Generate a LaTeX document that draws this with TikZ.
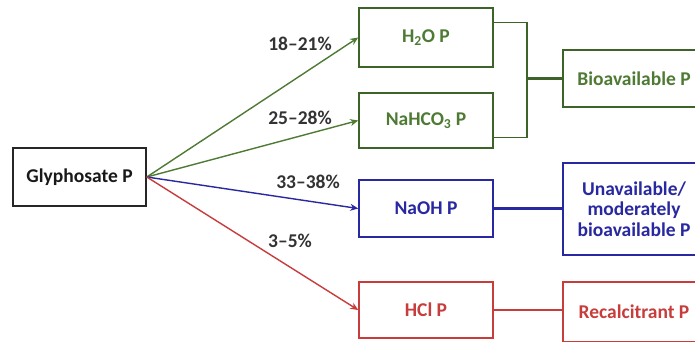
\documentclass[tikz,border=0pt]{standalone}
\usepackage{fontspec}
\setmainfont{Carlito}
\usetikzlibrary{arrows.meta}
\definecolor{gr}{RGB}{78,122,52}
\definecolor{grl}{RGB}{60,100,40}
\definecolor{bl}{RGB}{40,40,160}
\definecolor{rd}{RGB}{200,60,60}
\tikzset{
  box/.style={draw, line width=1.6pt, inner sep=0pt, align=center, font=\fontsize{19.5}{20.5}\selectfont\bfseries},
  arr/.style={line width=1.4pt, -{Stealth[length=8pt,width=7pt]}},
  conn/.style={line width=2.2pt},
  pct/.style={font=\fontsize{19.5}{21}\selectfont\bfseries, text=black!80}
}
\begin{document}
\begin{tikzpicture}[x=1pt,y=-1pt]
\clip (0,0) rectangle (695,341);
\fill[white] (0,0) rectangle (695,341);
\node[box, draw=black!85, text=black!90, minimum width=133pt, minimum height=58pt] (gly) at (79.5,177) {Glyphosate P};
\node[box, draw=grl, text=gr, minimum width=134pt, minimum height=59pt] (h2o) at (426,37.5) {H\textsubscript{2}O P};
\node[box, draw=grl, text=gr, minimum width=134pt, minimum height=55pt] (nah) at (426,120.5) {NaHCO\textsubscript{3} P};
\node[box, draw=bl, text=bl, minimum width=134pt, minimum height=57pt] (naoh) at (426,208.5) {NaOH P};
\node[box, draw=rd, text=rd, minimum width=134pt, minimum height=56pt] (hcl) at (426,310) {HCl P};
\node[box, draw=grl, text=gr, minimum width=142pt, minimum height=57pt] (bio) at (634,78.5) {Bioavailable P};
\node[box, draw=bl, text=bl, minimum width=142pt, minimum height=92pt] (unav) at (634,209) {Unavailable/\\moderately\\bioavailable P};
\node[box, draw=rd, text=rd, minimum width=142pt, minimum height=60pt] (rec) at (634,312) {Recalcitrant P};
\draw[arr, gr] (gly.east) -- (h2o.west);
\draw[arr, gr] (gly.east) -- (nah.west);
\draw[arr, bl] (gly.east) -- (naoh.west);
\draw[arr, rd] (gly.east) -- (hcl.west);
\node[pct] (p1) at (300,44) {18–21\%};
\node[pct] (p2) at (300,118) {25–28\%};
\node[pct] (p3) at (308,182) {33–38\%};
\node[pct] (p4) at (290,241) {3–5\%};
\coordinate (bm) at (527,78.5);
\draw[line width=1.3pt, grl] ([yshift=-15pt]h2o.north east) -| (bm) |- ([yshift=11pt]nah.south east);
\draw[conn, grl] (bm) -- (bio.west);
\draw[conn, bl] (naoh.east) -- (naoh.east -| unav.west);
\draw[conn, rd] (hcl.east) -- (hcl.east -| rec.west);
\end{tikzpicture}
\end{document}
